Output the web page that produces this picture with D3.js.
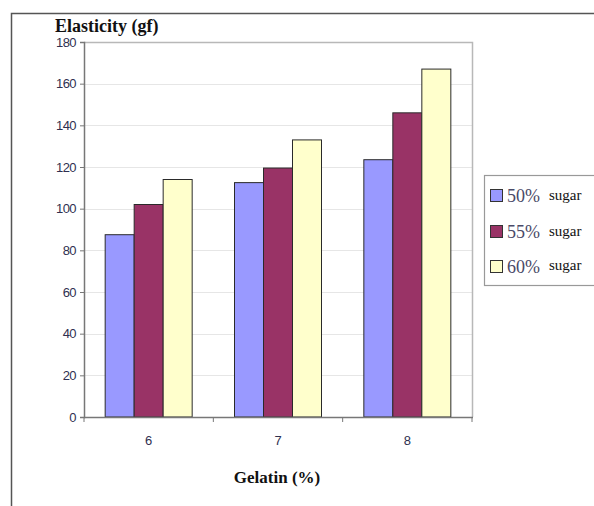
<!DOCTYPE html>
<html>
<head>
<meta charset="utf-8">
<script src="https://cdn.jsdelivr.net/npm/d3@7/dist/d3.min.js"></script>
<style>
  html, body { margin: 0; padding: 0; background: #fff; }
  svg { display: block; }
</style>
</head>
<body>
<svg id="chart" width="594" height="506"></svg>
<script>
// Gelatin concentration groups and sugar-level series
const categories = ["6", "7", "8"];
const seriesNames = ["50%", "55%", "60%"];
const sugar50 = [87.5, 112.5, 123.5];
const sugar55 = [102, 119.5, 146];
const sugar60 = [114, 133, 167];
const yTicks = [0, 20, 40, 60, 80, 100, 120, 140, 160, 180];

const seriesValues = [sugar50, sugar55, sugar60];
const colors = ["#9999ff", "#993366", "#ffffcc"];

const svg = d3.select("#chart");

const plot = { left: 84, right: 472, top: 42, bottom: 417 };

const x = d3.scaleBand().domain(categories).range([plot.left, plot.right]).paddingInner(0).paddingOuter(0);
const xSub = d3.scaleBand().domain(seriesNames).range([0, x.bandwidth()]).paddingInner(0).paddingOuter(0.73);
const y = d3.scaleLinear().domain([0, 180]).range([plot.bottom, plot.top]);

const tickFont = "'Liberation Sans', Arial, sans-serif";
const serifFont = "'Liberation Serif', 'Times New Roman', serif";

// outer frame (top and left edges)
svg.append("path")
  .attr("d", `M11.5,506 L11.5,13.5 L594,13.5`)
  .attr("fill", "none")
  .attr("stroke", "#555")
  .attr("stroke-width", 1.5);

// gridlines
svg.append("g")
  .selectAll("line")
  .data(yTicks.filter(t => t > 0))
  .join("line")
  .attr("x1", plot.left).attr("x2", plot.right)
  .attr("y1", d => Math.round(y(d)) + 0.5).attr("y2", d => Math.round(y(d)) + 0.5)
  .attr("stroke", "#e6e6e6")
  .attr("stroke-width", 1);

// plot area border (top and right)
svg.append("path")
  .attr("d", `M${plot.left},${plot.top + 0.5} L${plot.right + 0.5},${plot.top + 0.5} L${plot.right + 0.5},${plot.bottom}`)
  .attr("fill", "none")
  .attr("stroke", "#b8b8b8")
  .attr("stroke-width", 1.5);

// bars
const rows = categories.map((c, i) => ({
  cat: c,
  vals: seriesNames.map((s, j) => ({ s, j, v: seriesValues[j][i] }))
}));

svg.append("g")
  .selectAll("g")
  .data(rows)
  .join("g")
  .attr("transform", d => `translate(${x(d.cat)},0)`)
  .selectAll("rect")
  .data(d => d.vals)
  .join("rect")
  .attr("x", d => xSub(d.s))
  .attr("y", d => y(d.v))
  .attr("width", xSub.bandwidth())
  .attr("height", d => y(0) - y(d.v))
  .attr("fill", d => colors[d.j])
  .attr("stroke", "#2a2a2a")
  .attr("stroke-width", 1);

// y axis
const yAxis = d3.axisLeft(y).tickValues(yTicks).tickSize(4).tickPadding(4);
const gy = svg.append("g")
  .attr("transform", `translate(${plot.left},0)`)
  .call(yAxis);
gy.select(".domain").attr("stroke", "#777").attr("stroke-width", 1.5);
gy.selectAll(".tick line").attr("stroke", "#777");
gy.selectAll(".tick text")
  .attr("fill", "#2f3050")
  .style("font-family", tickFont)
  .style("font-size", "13px")
  .style("letter-spacing", "-0.6px");

// x axis with ticks at category boundaries
const gx = svg.append("g")
  .attr("transform", `translate(0,${plot.bottom})`);
gx.append("line")
  .attr("x1", plot.left).attr("x2", plot.right + 1)
  .attr("y1", 0.5).attr("y2", 0.5)
  .attr("stroke", "#777").attr("stroke-width", 1.5);
const boundaries = categories.map(c => x(c)).concat([x(categories[categories.length - 1]) + x.bandwidth()]);
gx.selectAll("line.tk")
  .data(boundaries)
  .join("line")
  .attr("class", "tk")
  .attr("x1", d => d).attr("x2", d => d)
  .attr("y1", 0).attr("y2", 5)
  .attr("stroke", "#777");
gx.selectAll("text")
  .data(categories)
  .join("text")
  .attr("x", d => x(d) + x.bandwidth() / 2)
  .attr("y", 28)
  .attr("text-anchor", "middle")
  .attr("fill", "#2f3050")
  .style("font-family", tickFont)
  .style("font-size", "13px")
  .text(d => d);

// titles
svg.append("text")
  .attr("x", 55)
  .attr("y", 32)
  .attr("fill", "#111")
  .style("font-family", serifFont)
  .style("font-weight", "bold")
  .style("font-size", "18px")
  .text("Elasticity (gf)");

svg.append("text")
  .attr("x", 277)
  .attr("y", 483)
  .attr("text-anchor", "middle")
  .attr("fill", "#111")
  .style("font-family", serifFont)
  .style("font-weight", "bold")
  .style("font-size", "17px")
  .text("Gelatin (%)");

// legend
const legend = svg.append("g");
legend.append("rect")
  .attr("x", 484.5).attr("y", 175.5)
  .attr("width", 120).attr("height", 110)
  .attr("fill", "#fff")
  .attr("stroke", "#999")
  .attr("stroke-width", 1.2);

const legendY = [196, 232, 267];
const items = legend.selectAll("g.item")
  .data(seriesNames)
  .join("g")
  .attr("class", "item")
  .attr("transform", (d, i) => `translate(490,${legendY[i]})`);
items.append("rect")
  .attr("x", 0.5).attr("y", -6.5)
  .attr("width", 12).attr("height", 12)
  .attr("fill", (d, i) => colors[i])
  .attr("stroke", "#333")
  .attr("stroke-width", 1);
items.append("text")
  .attr("x", 17)
  .attr("y", 6)
  .attr("fill", "#4a4a68")
  .style("font-family", serifFont)
  .style("font-size", "18px")
  .text(d => d);
items.append("text")
  .attr("x", 59)
  .attr("y", (d, i) => i === 2 ? 3 : 4)
  .attr("fill", "#111")
  .style("font-family", serifFont)
  .style("font-size", "15px")
  .text("sugar");
</script>
</body>
</html>
